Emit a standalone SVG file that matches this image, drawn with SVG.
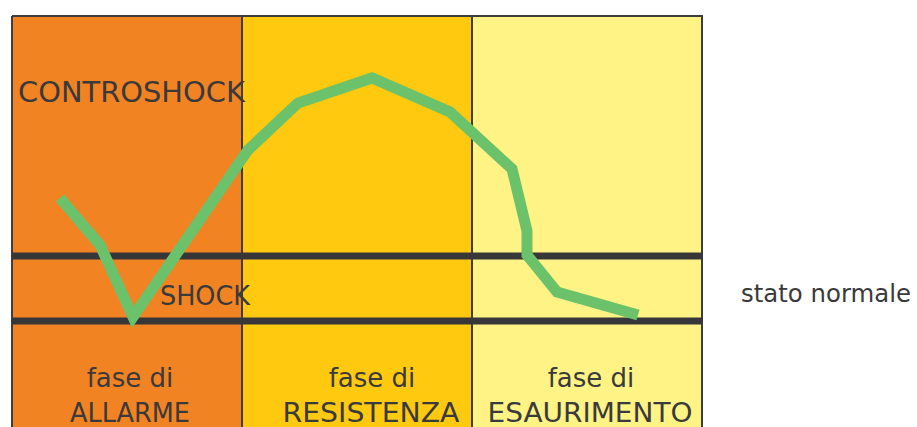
<svg xmlns="http://www.w3.org/2000/svg" width="917" height="427" viewBox="0 0 917 427">
<style>
.t{font-family:"Comic Sans MS","DejaVu Sans","Liberation Sans",sans-serif;fill:#3a3a3c}
.c{text-anchor:middle}
.div{stroke:#3d3d40;stroke-width:2}
.band{stroke:#37373a;stroke-width:7}
</style>
<g id="phase-allarme">
<rect x="12" y="16" width="230" height="420" fill="#F28322"/>
<text class="t c" x="130" y="387" font-size="26">fase di</text>
<text class="t c" x="130" y="422" font-size="26" textLength="120" lengthAdjust="spacingAndGlyphs">ALLARME</text>
</g>
<g id="phase-resistenza">
<rect x="242" y="16" width="230" height="420" fill="#FEC90F"/>
<text class="t c" x="372" y="387" font-size="26">fase di</text>
<text class="t c" x="371" y="422" font-size="26" textLength="177" lengthAdjust="spacingAndGlyphs">RESISTENZA</text>
</g>
<g id="phase-esaurimento">
<rect x="472" y="16" width="230" height="420" fill="#FEF384"/>
<text class="t c" x="591" y="387" font-size="26">fase di</text>
<text class="t c" x="590" y="422" font-size="26" textLength="205" lengthAdjust="spacingAndGlyphs">ESAURIMENTO</text>
</g>
<g id="frame">
<line class="div" x1="12" y1="16" x2="703" y2="16"/>
<line class="div" x1="12" y1="16" x2="12" y2="427"/>
<line class="div" x1="242" y1="16" x2="242" y2="427"/>
<line class="div" x1="472" y1="16" x2="472" y2="427"/>
<line class="div" x1="702" y1="16" x2="702" y2="427" stroke-width="3"/>
<line class="band" x1="12" y1="256" x2="703" y2="256"/>
<line class="band" x1="12" y1="321" x2="703" y2="321"/>
</g>
<g id="labels">
<text class="t" x="18" y="102" font-size="29" textLength="227" lengthAdjust="spacingAndGlyphs">CONTROSHOCK</text>
<text class="t" x="160" y="305" font-size="26" textLength="90" lengthAdjust="spacingAndGlyphs">SHOCK</text>
<text class="t" x="741" y="302" font-size="25" textLength="170" lengthAdjust="spacingAndGlyphs">stato normale</text>
</g>
<g id="connectors">
<polyline points="60,198 100,245 133,317 248,150 298,103 372,78 450,112 512,169 527,231 527,255 557,292 638,315" fill="none" stroke="#6CC26A" stroke-width="11" stroke-linejoin="miter"/>
</g>
</svg>
